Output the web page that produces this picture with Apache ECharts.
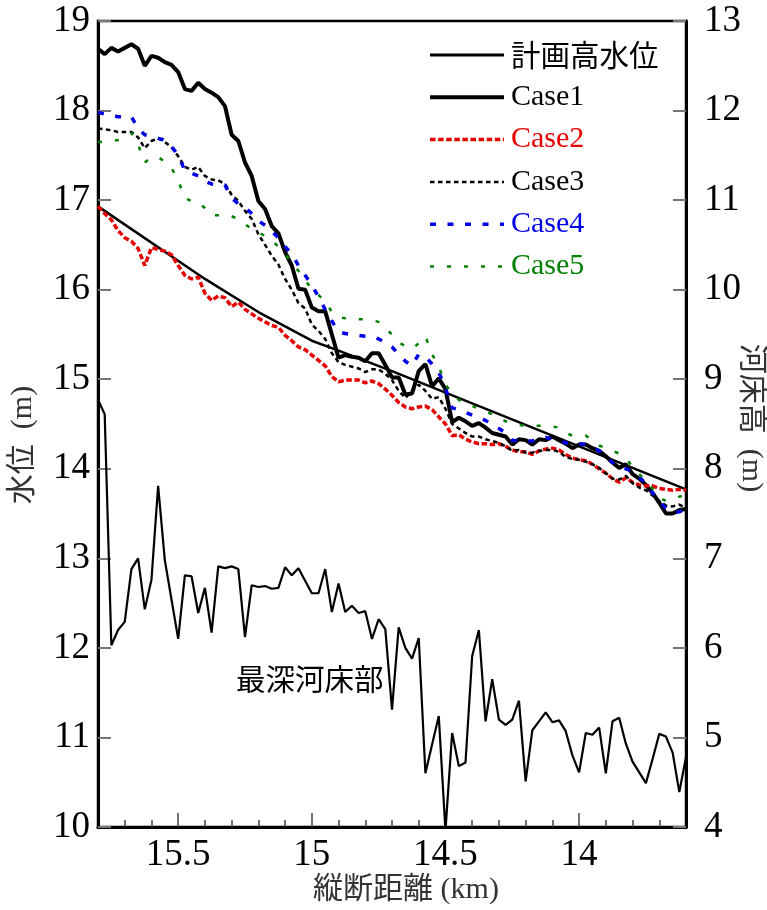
<!DOCTYPE html>
<html>
<head>
<meta charset="utf-8">
<script src="https://cdn.jsdelivr.net/npm/echarts@6/dist/echarts.min.js"></script>
<style>
  html, body { margin: 0; padding: 0; background: #fff; }
  #chart { width: 767px; height: 910px; }
</style>
</head>
<body>
<div id="chart"></div>
<script>
// 縦断距離 (km), 25 m pitch
const distanceKm = [
  15.8, 15.775, 15.75, 15.725, 15.7, 15.675, 15.65, 15.625, 15.6, 15.575,
  15.55, 15.525, 15.5, 15.475, 15.45, 15.425, 15.4, 15.375, 15.35, 15.325,
  15.3, 15.275, 15.25, 15.225, 15.2, 15.175, 15.15, 15.125, 15.1, 15.075,
  15.05, 15.025, 15.0, 14.975, 14.95, 14.925, 14.9, 14.875, 14.85, 14.825,
  14.8, 14.775, 14.75, 14.725, 14.7, 14.675, 14.65, 14.625, 14.6, 14.575,
  14.55, 14.525, 14.5, 14.475, 14.45, 14.425, 14.4, 14.375, 14.35, 14.325,
  14.3, 14.275, 14.25, 14.225, 14.2, 14.175, 14.15, 14.125, 14.1, 14.075,
  14.05, 14.025, 14.0, 13.975, 13.95, 13.925, 13.9, 13.875, 13.85, 13.825,
  13.8, 13.775, 13.75, 13.725, 13.7, 13.675, 13.65, 13.625, 13.6
]

// 計画高水位
const hwlKm = [15.8, 15.4, 15.2, 15.0, 14.9, 14.7, 13.6]
const hwlLevel = [16.93, 16.12, 15.75, 15.43, 15.32, 15.09, 13.77]

// 水位 (m)
const case1 = [
  18.69, 18.63, 18.70, 18.66, 18.70, 18.74, 18.69, 18.50, 18.61, 18.59,
  18.54, 18.51, 18.43, 18.24, 18.22, 18.31, 18.24, 18.20, 18.15, 18.05,
  17.73, 17.66, 17.42, 17.27, 16.99, 16.90, 16.71, 16.63, 16.42, 16.27,
  16.01, 16.00, 15.80, 15.76, 15.76, 15.50, 15.24, 15.27, 15.25, 15.24,
  15.20, 15.29, 15.29, 15.16, 15.02, 15.02, 14.83, 14.84, 15.09, 15.17,
  14.92, 15.01, 14.89, 14.52, 14.57, 14.53, 14.48, 14.51, 14.46, 14.40,
  14.38, 14.36, 14.27, 14.33, 14.32, 14.27, 14.33, 14.32, 14.36, 14.32,
  14.28, 14.23, 14.27, 14.27, 14.23, 14.20, 14.14, 14.07, 14.01, 14.05,
  13.94, 13.89, 13.82, 13.73, 13.62, 13.50, 13.50, 13.54, 13.55
]
const case2 = [
  16.93, 16.85, 16.78, 16.66, 16.58, 16.54, 16.46, 16.27, 16.47, 16.45,
  16.43, 16.39, 16.27, 16.16, 16.12, 16.14, 15.96, 15.88, 15.93, 15.91,
  15.81, 15.86, 15.78, 15.73, 15.68, 15.64, 15.60, 15.58, 15.49, 15.43,
  15.36, 15.33, 15.27, 15.21, 15.15, 15.03, 14.97, 14.99, 14.99, 14.99,
  14.96, 14.98, 14.95, 14.89, 14.82, 14.74, 14.69, 14.67, 14.69, 14.70,
  14.66, 14.58, 14.50, 14.37, 14.38, 14.33, 14.30, 14.28, 14.28, 14.27,
  14.28, 14.25, 14.21, 14.19, 14.19, 14.16, 14.20, 14.22, 14.23, 14.21,
  14.16, 14.12, 14.10, 14.09, 14.05, 14.00, 13.95, 13.89, 13.85, 13.90,
  13.85, 13.82, 13.81, 13.81, 13.78, 13.77, 13.76, 13.77, 13.76
]
const case3 = [
  17.80, 17.79, 17.78, 17.76, 17.76, 17.76, 17.70, 17.58, 17.66, 17.69,
  17.65, 17.59, 17.49, 17.37, 17.34, 17.37, 17.27, 17.23, 17.22, 17.18,
  17.06, 16.99, 16.88, 16.79, 16.62, 16.50, 16.38, 16.28, 16.12, 16.00,
  15.85, 15.79, 15.61, 15.54, 15.45, 15.29, 15.19, 15.16, 15.14, 15.12,
  15.08, 15.11, 15.11, 15.06, 14.99, 14.87, 14.79, 14.87, 14.94, 14.87,
  14.78, 14.80, 14.67, 14.50, 14.45, 14.40, 14.36, 14.36, 14.33, 14.31,
  14.29, 14.25, 14.20, 14.21, 14.18, 14.18, 14.20, 14.21, 14.21, 14.19,
  14.13, 14.11, 14.10, 14.08, 14.05, 14.01, 13.95, 13.89, 13.88, 13.92,
  13.84, 13.79, 13.76, 13.70, 13.64, 13.59, 13.58, 13.60, 13.56
]
const case4 = [
  17.98, 17.96, 17.95, 17.93, 17.93, 17.93, 17.80, 17.73, 17.71, 17.69,
  17.67, 17.60, 17.50, 17.33, 17.30, 17.27, 17.21, 17.18, 17.17, 17.17,
  17.02, 16.96, 16.92, 16.85, 16.77, 16.72, 16.65, 16.58, 16.48, 16.40,
  16.27, 16.16, 16.05, 15.92, 15.78, 15.65, 15.53, 15.51, 15.50, 15.49,
  15.48, 15.48, 15.45, 15.41, 15.36, 15.28, 15.20, 15.15, 15.28, 15.25,
  15.17, 15.08, 14.90, 14.68, 14.66, 14.63, 14.60, 14.57, 14.54, 14.49,
  14.45, 14.40, 14.32, 14.31, 14.31, 14.31, 14.33, 14.35, 14.33, 14.31,
  14.29, 14.27, 14.28, 14.27, 14.24, 14.20, 14.13, 14.07, 14.02, 14.00,
  13.97, 13.91, 13.83, 13.73, 13.64, 13.56, 13.51, 13.52, 13.55
]
const case5 = [
  17.65, 17.65, 17.66, 17.67, 17.70, 17.75, 17.62, 17.42, 17.48, 17.48,
  17.43, 17.36, 17.22, 17.02, 16.99, 16.98, 16.91, 16.83, 16.83, 16.84,
  16.82, 16.79, 16.73, 16.68, 16.64, 16.60, 16.55, 16.48, 16.40, 16.30,
  16.21, 16.11, 16.00, 15.94, 15.87, 15.75, 15.69, 15.68, 15.67, 15.67,
  15.67, 15.66, 15.64, 15.57, 15.50, 15.41, 15.37, 15.34, 15.40, 15.48,
  15.28, 15.14, 14.94, 14.84, 14.77, 14.73, 14.70, 14.67, 14.64, 14.61,
  14.57, 14.53, 14.51, 14.49, 14.48, 14.48, 14.48, 14.48, 14.47, 14.46,
  14.40, 14.37, 14.37, 14.37, 14.32, 14.26, 14.23, 14.20, 14.17, 14.12,
  14.02, 13.94, 13.86, 13.78, 13.68, 13.64, 13.66, 13.69, 13.70
]

// 河床高 (m) : 最深河床部
const riverbed = [
  8.77, 8.61, 6.03, 6.20, 6.29, 6.88, 7.00, 6.43, 6.76, 7.81,
  6.98, 6.54, 6.10, 6.81, 6.80, 6.39, 6.67, 6.17, 6.91, 6.89,
  6.91, 6.88, 6.12, 6.70, 6.68, 6.69, 6.66, 6.67, 6.90, 6.81,
  6.89, 6.75, 6.61, 6.61, 6.88, 6.40, 6.72, 6.40, 6.47, 6.39,
  6.41, 6.10, 6.32, 6.21, 5.31, 6.23, 6.00, 5.88, 6.11, 4.60,
  4.92, 5.24, 3.96, 5.05, 4.68, 4.72, 5.91, 6.20, 5.18, 5.65,
  5.20, 5.14, 5.20, 5.41, 4.51, 5.08, 5.18, 5.28, 5.17, 5.19,
  5.07, 4.80, 4.61, 5.05, 5.03, 5.11, 4.60, 5.18, 5.22, 4.93,
  4.73, 4.61, 4.49, 4.76, 5.04, 5.01, 4.83, 4.39, 4.78
]

const xMajorTicks = [15.5, 15, 14.5, 14]
const xMinorTicks = [15.7, 15.6, 15.4, 15.3, 15.2, 15.1, 14.9, 14.8, 14.7, 14.6, 14.4, 14.3, 14.2, 14.1, 13.9, 13.8, 13.7]

const RED = '#e60000'
const BLUE = '#0000e6'
const GREEN = '#008000'
const SERIF = "'Liberation Serif', 'Noto Sans CJK JP', serif"
const CJK = "'Noto Sans CJK JP', sans-serif"

const pairs = (xs, ys) => xs.map((x, i) => [x, ys[i]])

const chart = echarts.init(document.getElementById('chart'), null, { renderer: 'canvas' })

const lineSerie = (name, data, color, width, type, yAxisIndex = 0) => ({
  name,
  type: 'line',
  data,
  xAxisIndex: 0,
  yAxisIndex,
  symbol: 'none',
  smooth: false,
  clip: true,
  silent: true,
  lineStyle: { color, width, type },
  itemStyle: { color },
})

const xBase = {
  type: 'value',
  min: 13.6,
  max: 15.8,
  inverse: true,
  position: 'bottom',
  splitLine: { show: false },
}

const option = {
  animation: false,
  backgroundColor: '#fff',
  grid: {
    left: 98,
    right: 81,
    top: 21,
    bottom: 83,
    show: true,
    borderColor: '#000',
    borderWidth: 2.5,
    outerBoundsMode: 'none',
  },
  xAxis: [
    {
      ...xBase,
      name: '縦断距離 (km)',
      nameLocation: 'middle',
      nameGap: 48,
      nameMoveOverlap: false,
      nameTextStyle: { fontFamily: SERIF, fontSize: 30, color: '#333', padding: [0, 0, 0, 28] },
      axisLine: { show: true, lineStyle: { color: '#000', width: 3 } },
      axisTick: { show: true, inside: true, length: 14, customValues: xMajorTicks, lineStyle: { color: '#444', width: 1.5 } },
      axisLabel: { customValues: xMajorTicks, margin: 10, fontFamily: SERIF, fontSize: 37, color: '#000' },
    },
    {
      ...xBase,
      axisLine: { show: false },
      axisTick: { show: true, inside: true, length: 7, customValues: xMinorTicks, lineStyle: { color: '#444', width: 1.5 } },
      axisLabel: { show: false },
    },
  ],
  yAxis: [
    {
      type: 'value',
      min: 10,
      max: 19,
      interval: 1,
      position: 'left',
      name: '水位  (m)',
      nameLocation: 'middle',
      nameGap: 60,
      nameRotate: 90,
      nameMoveOverlap: false,
      nameTextStyle: { fontFamily: SERIF, fontSize: 30, color: '#333', padding: [0, 42, 0, 0] },
      splitLine: { show: false },
      axisLine: { show: true, lineStyle: { color: '#000', width: 3 } },
      axisTick: { show: true, inside: true, length: 13, lineStyle: { color: '#777', width: 2 } },
      axisLabel: { margin: 8, fontFamily: SERIF, fontSize: 37, color: '#000' },
    },
    {
      type: 'value',
      min: 4,
      max: 13,
      interval: 1,
      position: 'right',
      name: '河床高  (m)',
      nameLocation: 'middle',
      nameGap: 50,
      nameRotate: -90,
      nameMoveOverlap: false,
      nameTextStyle: { fontFamily: SERIF, fontSize: 30, color: '#333', padding: [0, 12, 0, 0] },
      splitLine: { show: false },
      axisLine: { show: true, lineStyle: { color: '#000', width: 3 } },
      axisTick: { show: true, inside: true, length: 13, lineStyle: { color: '#777', width: 2 } },
      axisLabel: { margin: 18, fontFamily: SERIF, fontSize: 37, color: '#000' },
    },
  ],
  legend: {
    orient: 'vertical',
    left: 428,
    top: 40,
    padding: 0,
    itemWidth: 74,
    itemHeight: 20,
    itemGap: 12.3,
    selectedMode: false,
    itemStyle: { opacity: 0, borderWidth: 0 },
    lineStyle: { width: 'inherit' },
    textStyle: { fontFamily: SERIF, fontSize: 30, lineHeight: 30, color: '#000', padding: [0, 0, 0, 2] },
    data: [
      { name: '計画高水位', lineStyle: { width: 3 }, textStyle: { fontFamily: CJK, fontSize: 29.5, color: '#000' } },
      { name: 'Case1', lineStyle: { width: 4 }, textStyle: { color: '#000' } },
      { name: 'Case2', lineStyle: { width: 3.5 }, textStyle: { color: RED } },
      { name: 'Case3', lineStyle: { width: 2.5 }, textStyle: { color: '#000' } },
      { name: 'Case4', lineStyle: { width: 3.5 }, textStyle: { color: BLUE } },
      { name: 'Case5', lineStyle: { width: 2.5 }, textStyle: { color: GREEN } },
    ],
  },
  graphic: [
    {
      type: 'text',
      left: 236,
      top: 664,
      style: { text: '最深河床部', font: "29.5px 'Noto Sans CJK JP'", fill: '#000' },
    },
  ],
  series: [
    lineSerie('最深河床部', pairs(distanceKm, riverbed), '#000', 2.2, 'solid', 1),
    lineSerie('計画高水位', pairs(hwlKm, hwlLevel), '#000', 2.5, 'solid'),
    lineSerie('Case1', pairs(distanceKm, case1), '#000', 4, 'solid'),
    lineSerie('Case2', pairs(distanceKm, case2), RED, 3.5, [5.5, 2.6]),
    lineSerie('Case3', pairs(distanceKm, case3), '#000', 2.5, [4.5, 3.5]),
    lineSerie('Case4', pairs(distanceKm, case4), BLUE, 3.5, [6, 11.5]),
    lineSerie('Case5', pairs(distanceKm, case5), GREEN, 2.5, [4, 13]),
  ],
}

chart.setOption(option)
window.addEventListener('resize', () => chart.resize())
</script>
</body>
</html>
